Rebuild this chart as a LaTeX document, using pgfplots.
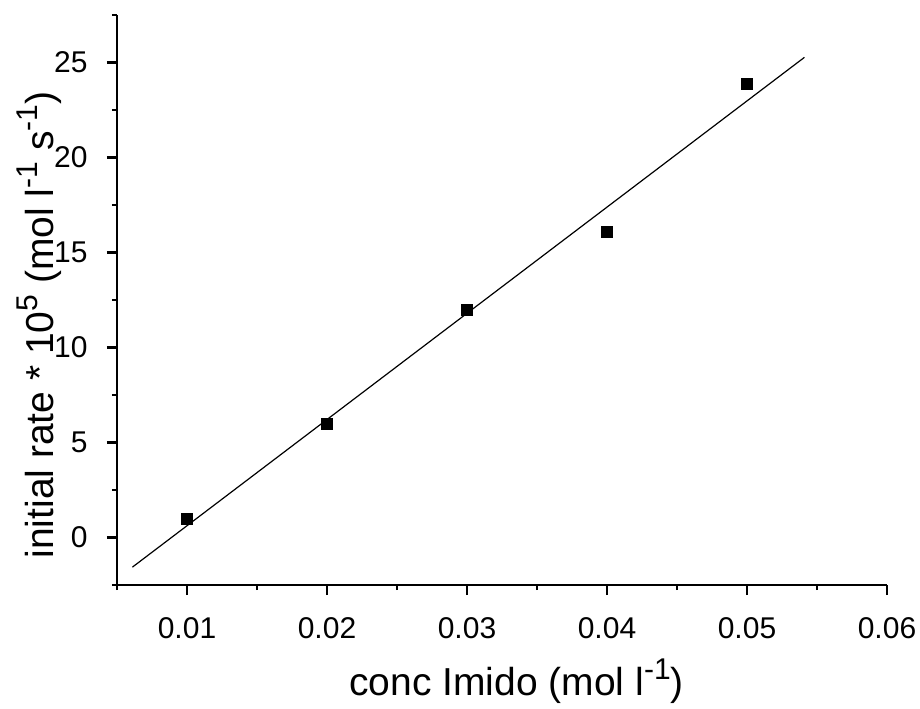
\documentclass[border=0pt]{standalone}
\usepackage{fontspec}
\setmainfont{Liberation Sans}
\usepackage{pgfplots}
\pgfplotsset{compat=1.18}
\newcommand\sups[1]{\raisebox{8pt}{\fontsize{15}{17}\selectfont #1}}
\begin{document}
\begin{tikzpicture}
\begin{axis}[
    scale only axis,
    width=385pt, height=285pt,
    xmin=0.005, xmax=0.06,
    ymin=-2.5, ymax=27.5,
    axis x line*=bottom, axis y line*=left,
    axis line style={line width=1.2pt, -},
    tick style={black, line width=1.2pt},
    tick align=outside,
    major tick length=5pt, minor tick length=2.5pt,
    scaled x ticks=false, scaled y ticks=false,
    xtick={0.01,0.02,0.03,0.04,0.05,0.06},
    xticklabels={0.01,0.02,0.03,0.04,0.05,0.06},
    minor xtick={0.005,0.015,0.025,0.035,0.045,0.055},
    ytick={0,5,10,15,20,25},
    minor ytick={-2.5,2.5,7.5,12.5,17.5,22.5,27.5},
    /pgf/number format/assume math mode=true,
    xticklabel style={font=\fontsize{15}{17}\selectfont, inner sep=0pt, anchor=base, yshift=-21.5pt},
    yticklabel style={font=\fontsize{15}{17}\selectfont, inner sep=0pt, anchor=east, xshift=-9.5pt},
    label style={font=\fontsize{19.5}{22}\selectfont},
    xlabel={conc Imido (mol l\sups{-1})},
    ylabel={initial rate * 10\sups{5} (mol l\sups{-1} s\sups{-1})},
    xlabel style={at={(axis description cs:0.519,-0.193)}, anchor=base},
    ylabel style={at={(axis description cs:-0.0831,0.456)}, anchor=base},
]
% measured rates
\addplot[only marks, mark=square*, mark size=2.75pt, black] coordinates {
    (0.01,1.0) (0.02,6.0) (0.03,12.0) (0.04,16.1) (0.05,23.9)
};
% linear fit
\addplot[black, line width=0.6pt] coordinates {
    (0.0061,-1.56) (0.0541,25.27)
};
\end{axis}
\pgfresetboundingbox
\path ([shift={(-58.5pt,-61.5pt)}]current axis.south west) rectangle ([shift={(16.5pt,7.5pt)}]current axis.north east);
\end{tikzpicture}
\end{document}
